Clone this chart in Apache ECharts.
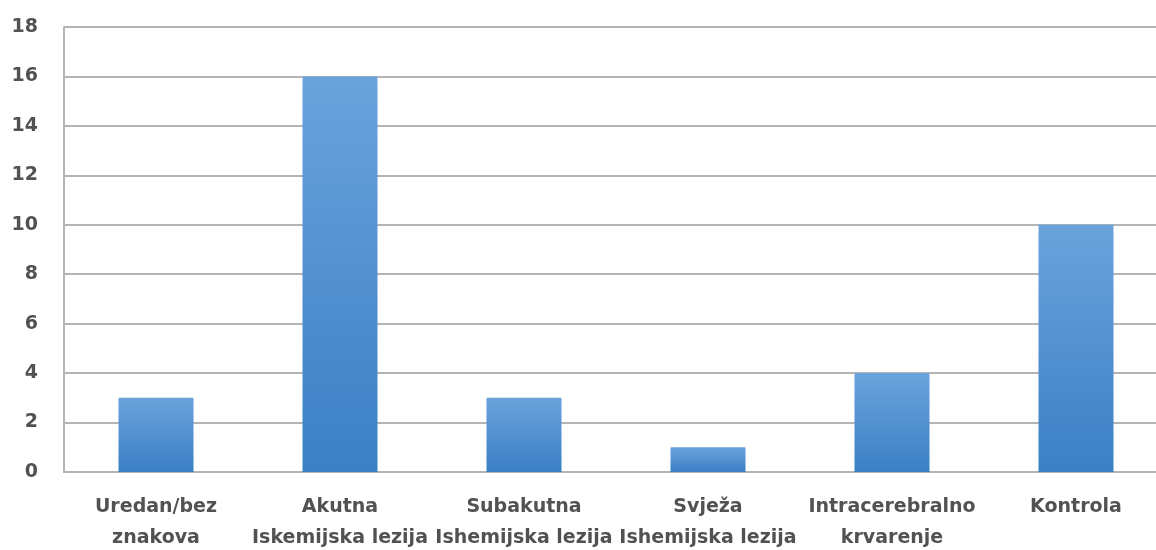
<!DOCTYPE html>
<html>
<head>
<meta charset="utf-8">
<script src="https://cdn.jsdelivr.net/npm/echarts@6/dist/echarts.min.js"></script>
<style>
  html, body { margin: 0; padding: 0; background: #ffffff; }
  #chart { width: 1156px; height: 550px; }
</style>
</head>
<body>
<div id="chart"></div>
<script>
// Findings per group
const categories = [
  'Uredan/bez\nznakova',
  'Akutna\nIskemijska lezija',
  'Subakutna\nIshemijska lezija',
  'Svježa\nIshemijska lezija',
  'Intracerebralno\nkrvarenje',
  'Kontrola'
];
const counts = [3, 16, 3, 1, 4, 10];
const yTicks = { min: 0, max: 18, step: 2 };

const chart = echarts.init(document.getElementById('chart'), null, { renderer: 'canvas' });

const labelColor = '#525252';
const lineColor = '#b4b4b4';
const labelFont = 'DejaVu Sans';

chart.setOption({
  animation: false,
  backgroundColor: '#ffffff',
  grid: {
    left: 64, top: 27, width: 1104, height: 445,
    containLabel: false,
    outerBoundsMode: 'none'
  },
  xAxis: {
    type: 'category',
    data: categories,
    axisLine: { show: true, lineStyle: { color: lineColor, width: 2 } },
    axisTick: { show: false },
    axisLabel: {
      color: labelColor,
      fontFamily: labelFont,
      fontWeight: 'bold',
      fontSize: 19,
      lineHeight: 31,
      margin: 20,
      interval: 0
    }
  },
  yAxis: {
    type: 'value',
    min: yTicks.min,
    max: yTicks.max,
    interval: yTicks.step,
    axisLine: { show: true, lineStyle: { color: lineColor, width: 2 } },
    axisTick: { show: false },
    axisLabel: {
      color: labelColor,
      fontFamily: labelFont,
      fontWeight: 'bold',
      fontSize: 19,
      margin: 26
    },
    splitLine: { show: true, lineStyle: { color: lineColor, width: 2 } }
  },
  series: [{
    type: 'bar',
    data: counts,
    barWidth: 75,
    itemStyle: {
      color: new echarts.graphic.LinearGradient(0, 0, 0, 1, [
        { offset: 0, color: '#6aa3dc' },
        { offset: 1, color: '#3b7fc5' }
      ])
    }
  }]
});
</script>
</body>
</html>
